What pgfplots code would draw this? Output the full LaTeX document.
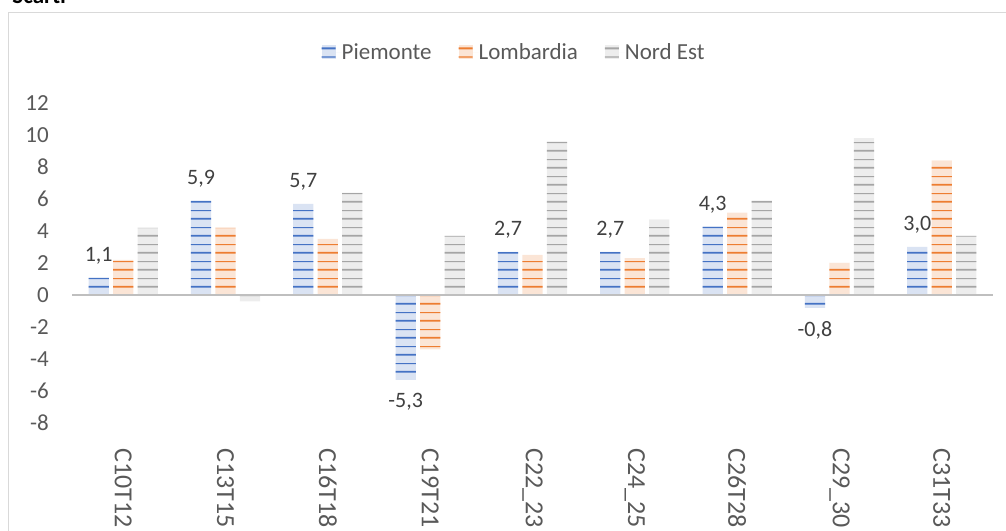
\documentclass[border=0pt]{standalone}
\usepackage{fontspec}
\setmainfont{Carlito}
\usepackage{pgfplots}
\pgfplotsset{compat=1.18}
\usetikzlibrary{patterns.meta}
\definecolor{pblue}{HTML}{4472C4}
\definecolor{pbluel}{HTML}{DAE3F3}
\definecolor{porange}{HTML}{ED7D31}
\definecolor{porangel}{HTML}{FBE5D6}
\definecolor{pgray}{HTML}{A5A5A5}
\definecolor{pgrayl}{HTML}{EDEDED}
\definecolor{txt}{HTML}{595959}
\definecolor{lbl}{HTML}{404040}
\definecolor{frame}{HTML}{D9D9D9}
\definecolor{axl}{HTML}{BFBFBF}
\newcommand\fA{\fontsize{23}{28}\selectfont}
\newcommand\fX{\fontsize{26}{31}\selectfont}
\newcommand\fL{\fontsize{22}{26}\selectfont}
\pgfdeclarepattern{
  name=excelstripes,
  type=uncolored,
  bottom left={\pgfpoint{0pt}{0pt}},
  top right={\pgfpoint{1100pt}{17pt}},
  tile size={\pgfpoint{1100pt}{17pt}},
  code={
    \pgfpathrectangle{\pgfpoint{0pt}{4.5pt}}{\pgfpoint{1100pt}{2pt}}
    \pgfpathrectangle{\pgfpoint{0pt}{13.45pt}}{\pgfpoint{1100pt}{1.2pt}}
    \pgfusepath{fill}
  }
}
\tikzset{
  stripes/.style 2 args={fill=#2, draw=none,
    postaction={pattern=excelstripes, pattern color=#1}}
}
\begin{document}
\begin{tikzpicture}[x=1pt,y=1pt]
\useasboundingbox (0,0) rectangle (1006,530);
\draw[frame, line width=1pt] (8.5,517.5) rectangle (1030,-20);
\node[font=\fA\bfseries, anchor=base east, inner sep=0pt] at (66,526) {Scarti};
\begin{axis}[
  at={(72pt,107pt)}, anchor=south west,
  scale only axis, width=921pt, height=320pt,
  xmin=-0.5, xmax=8.5, ymin=-8, ymax=12,
  ytick={-8,-6,...,12},
  xtick={0,...,8},
  xticklabels={C10T12,C13T15,C16T18,C19T21,C22\_23,C24\_25,C26T28,C29\_30,C31T33},
  axis line style={draw=none},
  major tick style={draw=none},
  yticklabel style={font=\fA, text=txt, anchor=east, inner xsep=23pt, inner ysep=0pt, /pgf/number format/assume math mode=true},
  xticklabel style={font=\fX, text=txt, rotate=-90, anchor=west, inner xsep=21pt, inner ysep=0pt},
  extra y ticks={0},
  extra y tick labels={},
  extra y tick style={grid=major, major grid style={draw=axl, line width=2.5pt}},
  axis on top,
  ybar=4.2pt, bar width=20.3pt,
  legend columns=-1,
  legend style={at={(0.479,1.159)}, anchor=center, draw=none, fill=none, font=\fA, text=txt,
    nodes={inner xsep=0pt, inner ysep=0pt},
    /tikz/every even column/.append style={column sep=27pt}},
  legend image code/.code={\path[#1] (0pt,-7pt) rectangle (14pt,7pt); \path (0pt,0pt) -- (20pt,0pt);},
]
\addplot[stripes={pblue}{pbluel},
  nodes near coords={\pgfmathprintnumber[fixed,fixed zerofill,precision=1,use comma,assume math mode=true]{\pgfplotspointmeta}},
  nodes near coords style={font=\fL, text=lbl, inner ysep=13pt, inner xsep=0pt}]
  coordinates {(0,1.1) (1,5.9) (2,5.7) (3,-5.3) (4,2.7) (5,2.7) (6,4.3) (7,-0.8) (8,3.0)};
\addplot[stripes={porange}{porangel}]
  coordinates {(0,2.2) (1,4.2) (2,3.5) (3,-3.4) (4,2.5) (5,2.3) (6,5.15) (7,2.0) (8,8.4)};
\addplot[stripes={pgray}{pgrayl}]
  coordinates {(0,4.2) (1,-0.4) (2,6.4) (3,3.7) (4,9.6) (5,4.7) (6,5.9) (7,9.8) (8,3.7)};
\legend{Piemonte,Lombardia,Nord Est}
\end{axis}
\end{tikzpicture}
\end{document}
